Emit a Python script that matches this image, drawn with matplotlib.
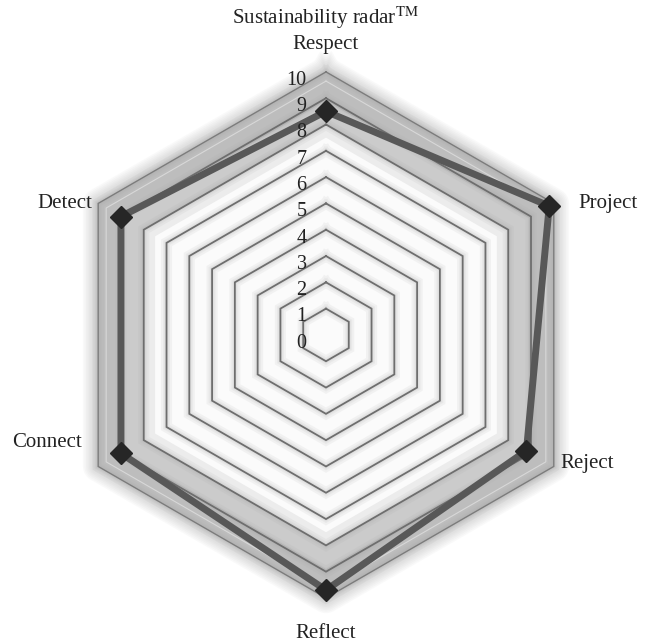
import numpy as np
import matplotlib
matplotlib.use("Agg")
import matplotlib.pyplot as plt
from matplotlib.transforms import offset_copy

# data
categories = ["Respect", "Project", "Reject", "Reflect", "Connect", "Detect"]
scores = [8.5, 9.8, 8.8, 9.7, 9.0, 9.0]
levels = list(range(0, 11))
title = "Sustainability radar$^{\\mathrm{TM}}$"

plt.rcParams["font.family"] = ["Liberation Serif", "DejaVu Serif"]
plt.rcParams["mathtext.fontset"] = "stix"

fig = plt.figure(figsize=(6.45, 6.43), dpi=100)
ax = fig.add_axes([0.0364, 0.0086, 0.938, 0.941], projection="polar")
ax.set_theta_offset(np.pi / 2)
ax.set_theta_direction(-1)
ax.set_ylim(0, 11.5)
ax.axis("off")

theta = np.linspace(0, 2 * np.pi, len(categories), endpoint=False)
tc = np.append(theta, theta[0])


def ring(r):
    return np.full(len(tc), r)


# soft shadow outside the outer hexagon
for w in np.linspace(22, 2, 10):
    ax.plot(tc, ring(10), color="#9a9a9a", lw=w, alpha=0.05,
            solid_joinstyle="round", zorder=1)

# outer grey band
ax.fill(tc, ring(10), color="#bdbdbd", zorder=2, lw=0)
ax.fill(tc, ring(8.9), color="#cbcbcb", zorder=2, lw=0)
ax.fill(tc, ring(8.0), color="#ececec", zorder=2, lw=0)
ax.fill(tc, ring(7.5), color="#fbfbfb", zorder=2, lw=0)

# grid rings with a light glow
for lv in levels[1:]:
    for w in (8, 5, 3):
        ax.plot(tc, ring(lv), color="#a0a0a0", lw=w, alpha=0.10,
                solid_joinstyle="miter", zorder=3)
    ax.plot(tc, ring(lv), color="#6e6e6e" if lv < 10 else "#7c7c7c",
            lw=1.3 if lv < 10 else 1.0, solid_joinstyle="miter", zorder=4)
ax.plot(tc, ring(9.65), color="#d8d8d8", lw=0.8, zorder=4)

# data series
vals = np.append(scores, scores[0])
ax.plot(tc, vals, color="#585858", lw=5, solid_joinstyle="miter", zorder=5)
ax.plot(theta, scores, ls="none", marker="D", ms=11, color="#262626", zorder=6)

# radial labels
lab_tr = offset_copy(ax.transData, fig=fig, x=-14, y=-6, units="points")
for lv in levels:
    ax.text(0, lv, str(lv), transform=lab_tr, ha="right", va="center",
            fontsize=14.5, color="#222222", zorder=7)

# category labels
offsets = {"Respect": (0, 13, "center", "bottom"),
           "Project": (18, 0, "left", "center"),
           "Reject": (5, 2, "left", "center"),
           "Reflect": (0, -19, "center", "top"),
           "Connect": (-12, 17, "right", "center"),
           "Detect": (-4, 0, "right", "center")}
for t, name in zip(theta, categories):
    dx, dy, ha, va = offsets[name]
    tr = offset_copy(ax.transData, fig=fig, x=dx, y=dy, units="points")
    ax.text(t, 10, name, transform=tr, ha=ha, va=va, fontsize=15,
            color="#222222")

fig.text(0.505, 0.972, title, ha="center", va="center", fontsize=15,
         color="#222222")

fig.savefig("out.png", dpi=100)
